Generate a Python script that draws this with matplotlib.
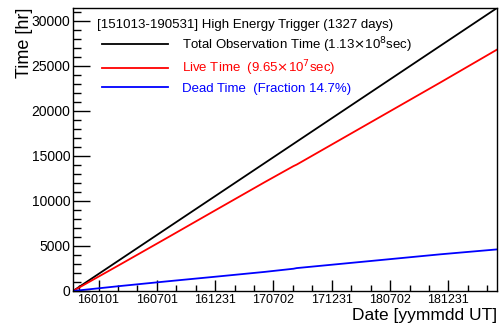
import numpy as np
import matplotlib
matplotlib.use("Agg")
import matplotlib.pyplot as plt
from matplotlib.ticker import MultipleLocator, FixedLocator

plt.rcParams['font.family'] = ['Liberation Sans', 'DejaVu Sans']

# cumulative exposure, days since 2015-10-13 (run start)
days = [0, 150, 300, 450, 600, 690, 700, 850, 1000, 1150, 1327]
total_hr = [0, 3548, 7097, 10645, 14193, 16322, 16559, 20107, 23655, 27204, 31389]
dead_hr = [0, 560, 1090, 1600, 2120, 2470, 2540, 3050, 3560, 4070, 4614]
live_hr = [t - d for t, d in zip(total_hr, dead_hr)]

tick_labels = ["160101", "160701", "161231", "170702", "171231", "180702", "181231"]

legend_title = "[151013-190531] High Energy Trigger (1327 days)"
series_labels = ["Total Observation Time (1.13$\\times$10$^{8}$sec)",
                 "Live Time  (9.65$\\times$10$^{7}$sec)",
                 "Dead Time  (Fraction 14.7%)"]
series_colors = ["black", "red", "blue"]

start = np.datetime64("2015-10-13")
n_days = 1327
# time axis: major divisions of 182.5 days starting 2016-01-01, 3 minor each
first_major = (np.datetime64("2016-01-01") - start) / np.timedelta64(1, "D")
major_step = 182.5
majors = first_major + major_step * np.arange(len(tick_labels))
minors = np.arange(first_major - major_step, n_days, major_step / 3)

fig = plt.figure(figsize=(5.02, 3.26), dpi=100)
ax = fig.add_axes([73 / 502, 35 / 326, 424 / 502, 283 / 326])

for y, lab, c in zip([total_hr, live_hr, dead_hr], series_labels, series_colors):
    ax.plot(days, y, color=c, lw=1.3, label=lab)

ax.set_xlim(0, n_days)
ax.set_ylim(0, total_hr[-1])

ax.xaxis.set_major_locator(FixedLocator(majors))
ax.xaxis.set_minor_locator(FixedLocator(minors))
ax.set_xticklabels(tick_labels)
ax.yaxis.set_major_locator(MultipleLocator(5000))
ax.yaxis.set_minor_locator(MultipleLocator(1000))

ax.tick_params(axis="both", which="both", direction="in", top=False, right=False, width=1)
ax.tick_params(axis="y", which="major", length=12, labelsize=10, pad=2)
ax.tick_params(axis="y", which="minor", length=6)
ax.tick_params(axis="x", which="major", length=8, labelsize=9, pad=2.5)
ax.tick_params(axis="x", which="minor", length=4)
for s in ax.spines.values():
    s.set_linewidth(1)

ax.set_ylabel("Time [hr]", fontsize=13, loc="top", labelpad=-1)
ax.set_xlabel("Date [yymmdd UT]", fontsize=12.5, loc="right", labelpad=1)

ax.text(0.057, 0.94, legend_title, transform=ax.transAxes, fontsize=9.5,
        ha="left", va="center")
leg = ax.legend(loc="upper left", bbox_to_anchor=(0.068, 0.904), frameon=False,
                fontsize=9.5, handlelength=5.0, handletextpad=1.1, labelspacing=0.3,
                labelcolor=series_colors, borderaxespad=0.0, borderpad=0.0)

fig.savefig("out.png", dpi=100)
